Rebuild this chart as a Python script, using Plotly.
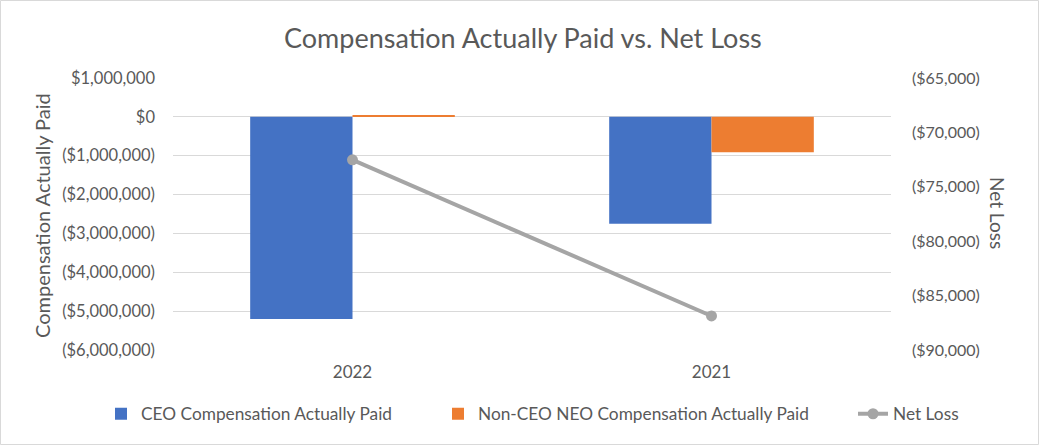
import plotly.graph_objects as go

years = ["2022", "2021"]
ceo_cap = [-5205000, -2750000]
neo_cap = [40000, -912000]
net_loss = [-72518, -86872]

left_ticks = [1000000, 0, -1000000, -2000000, -3000000, -4000000, -5000000, -6000000]
left_labels = ["$1,000,000", "$0", "($1,000,000)", "($2,000,000)", "($3,000,000)",
               "($4,000,000)", "($5,000,000)", "($6,000,000)"]
right_ticks = [-65000, -70000, -75000, -80000, -85000, -90000]
right_labels = ["($65,000)", "($70,000)", "($75,000)", "($80,000)", "($85,000)", "($90,000)"]

FONT = "Lato"
GREY = "#595959"

W, H = 1040, 446
L, R, T, B = 173, 149, 78, 96
pw, ph = W - L - R, H - T - B

def px(x):
    return (x - L) / pw

def py(y):
    return 1 - (y - T) / ph

fig = go.Figure()
fig.add_trace(go.Bar(x=years, y=ceo_cap, name="CEO Compensation Actually Paid",
                     marker_color="#4472c4", marker_line_width=0, legend="legend"))
fig.add_trace(go.Bar(x=years, y=neo_cap, name="Non-CEO NEO Compensation Actually Paid",
                     marker_color="#ed7d31", marker_line_width=0, legend="legend2"))
fig.add_trace(go.Scatter(x=years, y=net_loss, name="Net Loss", yaxis="y2",
                         mode="lines+markers",
                         line=dict(color="#a5a5a5", width=4),
                         marker=dict(color="#a5a5a5", size=11), legend="legend3"))

def leg(x):
    return dict(orientation="h", x=px(x), xanchor="left", y=py(414), yanchor="middle",
                font=dict(size=17.3, color=GREY), itemwidth=30, bgcolor="rgba(0,0,0,0)")

fig.update_layout(
    width=W, height=H,
    margin=dict(l=L, r=R, t=T, b=B),
    paper_bgcolor="white", plot_bgcolor="white",
    font=dict(family=FONT, size=16.5, color=GREY),
    barmode="group", bargap=0.43, bargroupgap=0,
    showlegend=True,
    legend=leg(101),
    legend2=leg(438),
    legend3=leg(853),
    xaxis=dict(showgrid=False, showline=False, ticks="", tickfont=dict(size=17, color=GREY),
               ticklabelstandoff=10, automargin=False),
    yaxis=dict(range=[-6000000, 1000000], tickvals=left_ticks, ticktext=left_labels,
               showgrid=True, gridcolor="#d9d9d9", gridwidth=1, zeroline=False,
               showline=False, ticks="", ticklabelstandoff=17, automargin=False,
               tickfont=dict(size=16.5, color=GREY)),
    yaxis2=dict(range=[-90000, -65000], tickvals=right_ticks, ticktext=right_labels,
                overlaying="y", side="right", showgrid=False, zeroline=False,
                showline=False, ticks="", ticklabelstandoff=20, automargin=False,
                tickfont=dict(size=16, color=GREY)),
    annotations=[
        dict(text="Compensation Actually Paid vs. Net Loss", xref="paper", yref="paper",
             x=px(523), y=py(37), xanchor="center", yanchor="middle", showarrow=False,
             font=dict(size=27, color=GREY)),
        dict(text="Compensation Actually Paid", xref="paper", yref="paper",
             x=px(42), y=py(216), xanchor="center", yanchor="middle", showarrow=False,
             textangle=-90, font=dict(size=20, color=GREY)),
        dict(text="Net Loss", xref="paper", yref="paper",
             x=px(998), y=py(213), xanchor="center", yanchor="middle", showarrow=False,
             textangle=90, font=dict(size=19, color=GREY)),
    ],
    shapes=[dict(type="rect", xref="paper", yref="paper",
                 x0=px(0.5), x1=px(W - 1.5), y0=py(H - 1.5), y1=py(0.5),
                 line=dict(color="#d9d9d9", width=1), fillcolor="rgba(0,0,0,0)")],
)

fig.write_html("out.html", config={"displayModeBar": False},
               post_script="document.body.style.margin='0';document.body.style.overflow='hidden';")
